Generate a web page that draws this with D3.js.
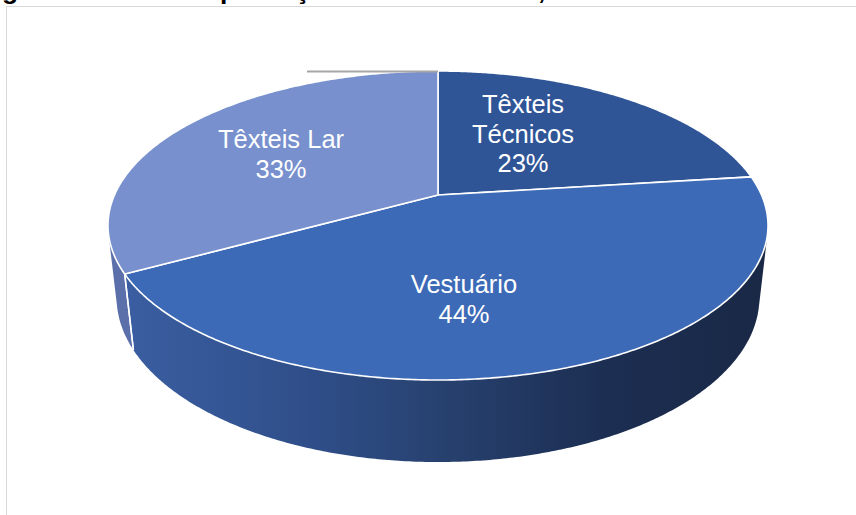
<!DOCTYPE html>
<html>
<head>
<meta charset="utf-8">
<script src="https://cdn.jsdelivr.net/npm/d3@7"></script>
<style>
  html, body { margin: 0; padding: 0; background: #ffffff; overflow: hidden; }
  svg { display: block; overflow: hidden; }
</style>
</head>
<body>
<svg id="chart" width="856" height="515"></svg>
<script>
// Production share by segment
const categories = ["Têxteis Técnicos", "Vestuário", "Têxteis Lar"];
const shares = [23, 44, 33];
const labelLines = [["Têxteis", "Técnicos"], ["Vestuário"], ["Têxteis Lar"]];
const titleText = "Figura 1 – Peso da produção entre vestuário, têxteis lar e têxteis técnicos";

// Styling
const topColors = ["#2F5597", "#3D6AB6", "#7890CD"];
const sideStops = [
  [[0, "#24457F"], [1, "#13203A"]],
  [[0, "#3B5FA3"], [0.3, "#2F4E89"], [0.5, "#27416F"], [0.75, "#1C2E52"], [1, "#192845"]],
  [[0, "#5B70AA"], [1, "#6579B3"]]
];
const labelPos = [
  { x: 523, y: 113 },
  { x: 464, y: 293 },
  { x: 281, y: 148 }
];

const W = 856, H = 515;
const svg = d3.select("#chart");

// Perspective camera for the tilted disc
const cam = { cx: 438, cy: 195, f: 1455.8, dist: 4.5, tilt: Math.asin(0.459) };
const thickness = 0.253;
const sinT = Math.sin(cam.tilt), cosT = Math.cos(cam.tilt);
const radius = d3.scaleLinear().domain([0, 1]).range([0, 1]);

function project(theta, rho, h) {
  const r = radius(rho);
  const X = r * Math.sin(theta), Z = r * Math.cos(theta);
  const depth = cam.dist + Z * cosT - h * sinT;
  const up = Z * sinT + h * cosT;
  return [cam.cx + cam.f * X / depth, cam.cy - cam.f * up / depth];
}

const pie = d3.pie().sort(null).value(d => d.value).startAngle(0).endAngle(2 * Math.PI);
const arcs = pie(categories.map((c, i) => ({ name: c, value: shares[i], i })));

// Frame
svg.append("rect")
  .attr("x", 6.5).attr("y", 6.5)
  .attr("width", W + 20).attr("height", H + 20)
  .attr("fill", "none").attr("stroke", "#D9D9D9").attr("stroke-width", 1);

// Title (sits above the frame, mostly outside the view)
const title = svg.append("text")
  .attr("font-family", "'Liberation Sans', Arial, sans-serif")
  .attr("font-weight", "bold")
  .attr("font-size", 26.5)
  .attr("fill", "#000")
  .text(titleText);
const pIdx = titleText.indexOf("produção");
const pre = title.node().getSubStringLength(0, pIdx);
title.attr("x", 220 - pre).attr("y", -1.5);

const defs = svg.append("defs");
sideStops.forEach((stops, i) => {
  const g = defs.append("linearGradient")
    .attr("id", "side" + i)
    .attr("gradientUnits", "userSpaceOnUse")
    .attr("x1", 115).attr("x2", 770).attr("y1", 0).attr("y2", 0);
  stops.forEach(([o, c]) => g.append("stop").attr("offset", o).attr("stop-color", c));
});

// Visible range of the outer wall
const limit = Math.acos(-1 / (cam.dist * cosT));
const visLo = limit, visHi = 2 * Math.PI - limit;
const step = Math.PI / 360;

function arcPoints(a0, a1, h) {
  const n = Math.max(2, Math.ceil((a1 - a0) / step));
  return d3.range(n + 1).map(k => project(a0 + (a1 - a0) * k / n, 1, h));
}

const line = d3.line();
const gSide = svg.append("g");
const gSeams = svg.append("g");
arcs.forEach(a => {
  const lo = Math.max(a.startAngle, visLo), hi = Math.min(a.endAngle, visHi);
  if (hi <= lo) return;
  const topPts = arcPoints(lo, hi, 0);
  const botPts = arcPoints(lo, hi, -thickness).reverse();
  gSide.append("path")
    .attr("d", line(topPts.concat(botPts)) + "Z")
    .attr("fill", `url(#side${a.index})`);
  // seam at slice boundaries on the wall
  [a.startAngle, a.endAngle].forEach(t => {
    if (t > visLo + 0.01 && t < visHi - 0.01) {
      gSeams.append("path")
        .attr("d", line([project(t, 1, 0), project(t, 1, -thickness)]))
        .attr("stroke", "#ffffff").attr("stroke-width", 1.5).attr("fill", "none");
    }
  });
});

// Top faces
const gTop = svg.append("g");
arcs.forEach(a => {
  const pts = [project(0, 0, 0)].concat(arcPoints(a.startAngle, a.endAngle, 0));
  gTop.append("path")
    .attr("d", line(pts) + "Z")
    .attr("fill", topColors[a.index])
    .attr("stroke", "#ffffff")
    .attr("stroke-width", 1.6)
    .attr("stroke-linejoin", "round");
});

// Leader stub at the top of the disc
const topPt = project(0, 1, 0);
svg.append("line")
  .attr("x1", 307).attr("y1", topPt[1] + 0.5)
  .attr("x2", topPt[0]).attr("y2", topPt[1] + 0.5)
  .attr("stroke", "#A6A6A6").attr("stroke-width", 2);

// Labels
const gLab = svg.append("g")
  .attr("font-family", "'Liberation Sans', Arial, sans-serif")
  .attr("font-size", 25.5)
  .attr("fill", "#ffffff")
  .attr("text-anchor", "middle");
arcs.forEach(a => {
  const lines = labelLines[a.index].concat([a.data.value + "%"]);
  const p = labelPos[a.index];
  const t = gLab.append("text").attr("x", p.x).attr("y", p.y);
  lines.forEach((s, k) => {
    t.append("tspan").attr("x", p.x).attr("dy", k === 0 ? 0 : 29.5).text(s);
  });
});
</script>
</body>
</html>
